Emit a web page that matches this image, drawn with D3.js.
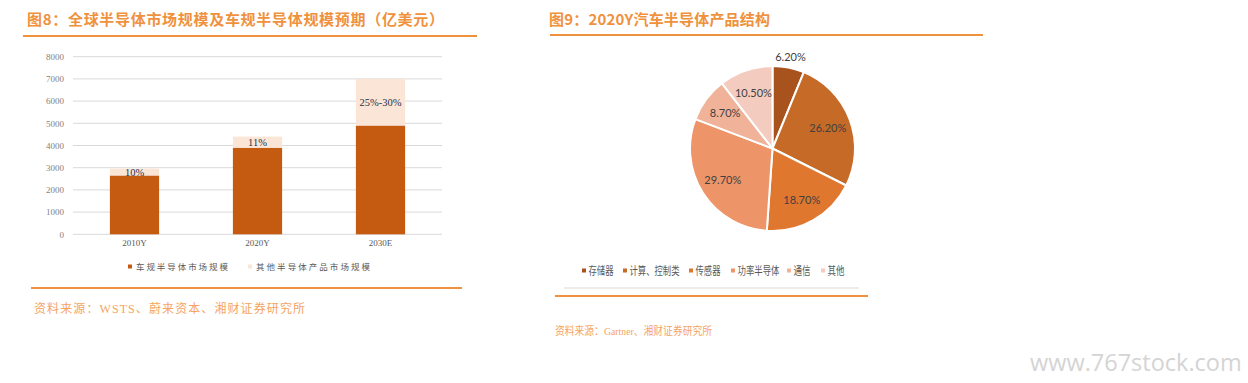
<!DOCTYPE html>
<html><head><meta charset="utf-8">
<script src="https://cdn.jsdelivr.net/npm/d3@7"></script>
<style>body{margin:0;background:#fff}svg{display:block}</style>
</head><body>
<svg id="c" width="1248" height="383"></svg>
<script>
// ---- data ----
const barCategories = ["2010Y", "2020Y", "2030E"];
const carSemi = [2650, 3900, 4900];
const otherSemi = [310, 500, 2100];
const barLabels = ["10%", "11%", "25%-30%"];
const yTicks = [0, 1000, 2000, 3000, 4000, 5000, 6000, 7000, 8000];
const barSeriesNames = ["车规半导体市场规模", "其他半导体产品市场规模"];

const pieCategories = ["存储器", "计算、控制类", "传感器", "功率半导体", "通信", "其他"];
const pieValues = [6.2, 26.2, 18.7, 29.7, 8.7, 10.5];
const pieLabels = ["6.20%", "26.20%", "18.70%", "29.70%", "8.70%", "10.50%"];

const svg = d3.select("#c");
const orange = "#F0913D";
const serif = "'Liberation Serif', 'Noto Sans CJK SC', serif";
const cjk = "'Noto Sans CJK SC', sans-serif";

// ---- left panel ----
svg.append("text").attr("x", 27).attr("y", 25).attr("font-family", cjk).attr("font-weight", "bold")
  .attr("font-size", 15).attr("fill", orange).attr("textLength", 417).attr("lengthAdjust", "spacing")
  .text("图8：全球半导体市场规模及车规半导体规模预期（亿美元）");
svg.append("line").attr("x1", 23).attr("x2", 477).attr("y1", 36).attr("y2", 36).attr("stroke", orange).attr("stroke-width", 2);

const x = d3.scaleBand().domain(barCategories).range([73, 442]).paddingInner(0.6).paddingOuter(0.3);
const y = d3.scaleLinear().domain([0, 8000]).range([234.3, 56.7]);

const grid = svg.append("g");
grid.selectAll("line").data(yTicks).join("line")
  .attr("x1", 73).attr("x2", 442).attr("y1", d => y(d)).attr("y2", d => y(d))
  .attr("stroke", "#d9d9d9").attr("stroke-width", 1);

const yAxis = d3.axisLeft(y).tickValues(yTicks).tickFormat(d3.format("d")).tickSize(0).tickPadding(0);
const gy = svg.append("g").attr("transform", "translate(64,0)").call(yAxis);
gy.select(".domain").remove();
gy.selectAll("text").attr("font-family", serif).attr("font-size", 9).attr("fill", "#7f7f7f");

const xAxis = d3.axisBottom(x).tickSize(0).tickPadding(0);
const gx = svg.append("g").attr("transform", "translate(0,240)").call(xAxis);
gx.select(".domain").remove();
gx.selectAll("text").attr("font-family", serif).attr("font-size", 9).attr("fill", "#595959");

const bars = svg.append("g");
bars.selectAll(".car").data(barCategories).join("rect")
  .attr("x", d => x(d)).attr("width", x.bandwidth())
  .attr("y", (d, i) => y(carSemi[i])).attr("height", (d, i) => y(0) - y(carSemi[i]))
  .attr("fill", "#C55A11");
bars.selectAll(".oth").data(barCategories).join("rect")
  .attr("x", d => x(d)).attr("width", x.bandwidth())
  .attr("y", (d, i) => y(carSemi[i] + otherSemi[i])).attr("height", (d, i) => y(carSemi[i]) - y(carSemi[i] + otherSemi[i]))
  .attr("fill", "#FBE5D6");
bars.selectAll("text").data(barCategories).join("text")
  .attr("x", d => x(d) + x.bandwidth() / 2)
  .attr("y", (d, i) => (y(carSemi[i]) + y(carSemi[i] + otherSemi[i])) / 2)
  .attr("dy", "0.35em").attr("text-anchor", "middle")
  .attr("font-family", serif).attr("font-size", 10.5).attr("fill", "#26304a")
  .text((d, i) => barLabels[i]);

const bLeg = [{c: "#C55A11", x: 128, t: barSeriesNames[0], w: 92}, {c: "#FBE5D6", x: 248, t: barSeriesNames[1], w: 114}];
bLeg.forEach(l => {
  svg.append("rect").attr("x", l.x).attr("y", 264.5).attr("width", 4).attr("height", 4).attr("fill", l.c);
  svg.append("text").attr("x", l.x + 8).attr("y", 270).attr("font-family", cjk).attr("font-size", 8.5)
    .attr("fill", "#595959").attr("textLength", l.w).attr("lengthAdjust", "spacing").text(l.t);
});
svg.append("line").attr("x1", 31).attr("x2", 462).attr("y1", 288).attr("y2", 288).attr("stroke", orange).attr("stroke-width", 2);
svg.append("text").attr("x", 34).attr("y", 313).attr("font-family", serif).attr("font-size", 12)
  .attr("fill", "#F5A462").attr("textLength", 271).attr("lengthAdjust", "spacing")
  .text("资料来源：WSTS、蔚来资本、湘财证券研究所");

// ---- right panel ----
svg.append("text").attr("x", 549).attr("y", 25).attr("font-family", cjk).attr("font-weight", "bold")
  .attr("font-size", 15).attr("fill", orange).attr("textLength", 221).attr("lengthAdjust", "spacing")
  .text("图9：2020Y汽车半导体产品结构");
svg.append("line").attr("x1", 550).attr("x2", 983).attr("y1", 35).attr("y2", 35).attr("stroke", orange).attr("stroke-width", 2);

const pieColors = d3.scaleOrdinal().domain(pieCategories)
  .range(["#A8531E", "#C66A28", "#DF772F", "#ED9468", "#F0B39A", "#F3CCBF"]);
const cx = 772.5, cy = 148.5, R = 82.5;
const pie = d3.pie().sort(null).value(d => d)(pieValues);
const arc = d3.arc().innerRadius(0).outerRadius(R);
const lblArc = d3.arc().innerRadius(59).outerRadius(59);
const outArc = d3.arc().innerRadius(93).outerRadius(93);
const pg = svg.append("g").attr("transform", `translate(${cx},${cy})`);
pg.selectAll("path").data(pie).join("path").attr("d", arc)
  .attr("fill", (d, i) => pieColors(pieCategories[i])).attr("stroke", "#fff").attr("stroke-width", 2).attr("stroke-linejoin", "round");
pg.selectAll("text").data(pie).join("text")
  .attr("transform", (d, i) => `translate(${(i === 0 ? outArc : lblArc).centroid(d)})`)
  .attr("text-anchor", "middle").attr("dy", "0.35em")
  .attr("font-family", "Lato, 'Open Sans', sans-serif").attr("font-size", 11).attr("fill", "#404040")
  .text((d, i) => pieLabels[i]);

const legX = [584, 625, 691, 733, 789, 823];
const legW = [25, 50, 25, 42, 17, 17];
const lg = svg.append("g");
pieCategories.forEach((c, i) => {
  lg.append("rect").attr("x", legX[i] - 2).attr("y", 268.5).attr("width", 4).attr("height", 4).attr("fill", pieColors(c));
  lg.append("text").attr("x", legX[i] + 4.5).attr("y", 275).attr("font-family", cjk).attr("font-size", 11.5)
    .attr("fill", "#595959").attr("textLength", legW[i]).attr("lengthAdjust", "spacingAndGlyphs").text(c);
});
svg.append("line").attr("x1", 564).attr("x2", 859).attr("y1", 288).attr("y2", 288).attr("stroke", "#d9d9d9").attr("stroke-width", 1);
svg.append("line").attr("x1", 555).attr("x2", 868).attr("y1", 296).attr("y2", 296).attr("stroke", orange).attr("stroke-width", 2);
svg.append("text").attr("x", 555).attr("y", 335).attr("font-family", serif).attr("font-size", 11)
  .attr("fill", "#F5A462").attr("textLength", 157).attr("lengthAdjust", "spacingAndGlyphs")
  .text("资料来源：Gartner、湘财证券研究所");

svg.append("text").attr("x", 1030).attr("y", 371).attr("font-family", "'Open Sans', sans-serif").attr("font-size", 23.5)
  .attr("fill", "#d4d4d4").text("www.767stock.com");
</script>
</body></html>
